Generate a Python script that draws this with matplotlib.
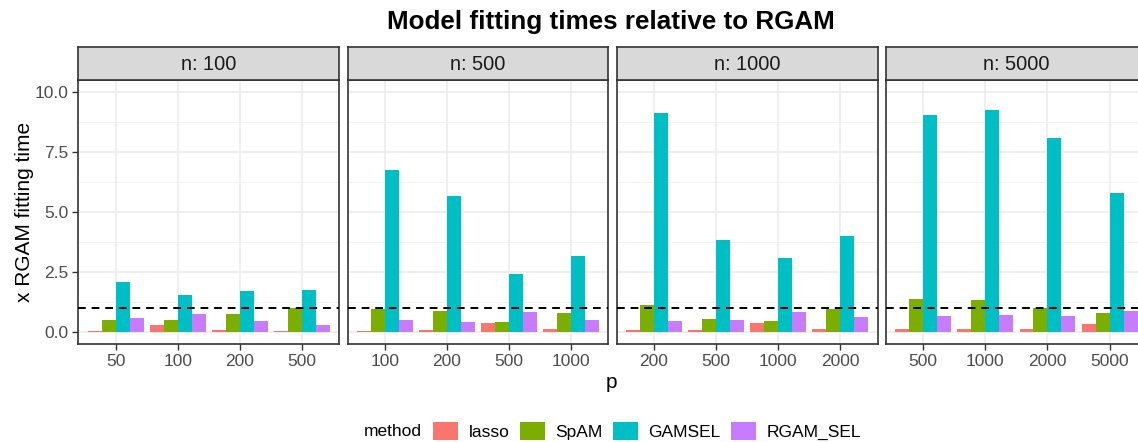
import matplotlib.pyplot as plt
from matplotlib.patches import Patch
import numpy as np

plt.rcParams['font.family'] = ['Liberation Sans', 'DejaVu Sans']

# facets and x categories
n_values = [100, 500, 1000, 5000]
p_values = [[50, 100, 200, 500],
            [100, 200, 500, 1000],
            [200, 500, 1000, 2000],
            [500, 1000, 2000, 5000]]

methods = ['lasso', 'SpAM', 'GAMSEL', 'RGAM_SEL']
colors = ['#F8766D', '#7CAE00', '#00BFC4', '#C77CFF']

# fitting time relative to RGAM, one row per n
lasso = [[0.04, 0.29, 0.08, 0.04],
         [0.04, 0.08, 0.37, 0.12],
         [0.08, 0.08, 0.37, 0.12],
         [0.12, 0.12, 0.12, 0.33]]
spam = [[0.50, 0.50, 0.75, 1.00],
        [0.98, 0.87, 0.42, 0.79],
        [1.12, 0.54, 0.46, 0.96],
        [1.37, 1.33, 1.02, 0.79]]
gamsel = [[2.08, 1.54, 1.70, 1.75],
          [6.77, 5.69, 2.41, 3.16],
          [9.14, 3.85, 3.10, 3.99],
          [9.06, 9.27, 8.10, 5.78]]
rgam_sel = [[0.58, 0.75, 0.46, 0.29],
            [0.50, 0.42, 0.83, 0.50],
            [0.46, 0.50, 0.83, 0.62],
            [0.66, 0.71, 0.66, 0.87]]
series = [lasso, spam, gamsel, rgam_sel]

W, H = 1138, 442
fig = plt.figure(figsize=(W / 100, H / 100), dpi=100)

left0, step, pw = 78.3, 269.2, 261.0
top, bottom, strip_top = 80.3, 344.0, 46.7
bw = 0.225
x = np.arange(4)

for j, n in enumerate(n_values):
    l = left0 + j * step
    ax = fig.add_axes([l / W, 1 - bottom / H, pw / W, (bottom - top) / H])
    for k in range(4):
        ax.bar(x + (k - 1.5) * bw, series[k][j], width=bw, color=colors[k], zorder=2)
    ax.axhline(1, color='black', lw=1.4, ls=(0, (4, 3)), zorder=3)
    ax.set_xlim(-0.6, 3.6)
    ax.set_ylim(-0.5, 10.5)
    ax.set_xticks(x)
    ax.set_xticklabels([str(p) for p in p_values[j]])
    ax.set_yticks([0, 2.5, 5, 7.5, 10])
    ax.set_yticks([1.25, 3.75, 6.25, 8.75], minor=True)
    ax.grid(True, which='major', color='#EBEBEB', lw=1.1, zorder=0)
    ax.grid(True, which='minor', axis='y', color='#F0F0F0', lw=0.6, zorder=0)
    ax.set_axisbelow(True)
    ax.tick_params(axis='both', which='major', length=4, width=1, color='#333333',
                   labelsize=12.5, labelcolor='#4D4D4D', pad=3)
    ax.tick_params(axis='y', which='minor', length=0)
    if j == 0:
        ax.set_yticklabels(['0.0', '2.5', '5.0', '7.5', '10.0'])
    else:
        ax.tick_params(axis='y', which='both', length=0, labelleft=False)
    for s in ax.spines.values():
        s.set_color('#333333')
        s.set_linewidth(1.2)

    sax = fig.add_axes([l / W, 1 - top / H, pw / W, (top - strip_top) / H])
    sax.set_facecolor('#D9D9D9')
    sax.set_xticks([])
    sax.set_yticks([])
    for s in sax.spines.values():
        s.set_color('#333333')
        s.set_linewidth(1.2)
    sax.text(0.5, 0.48, f'n: {n}', ha='center', va='center', fontsize=14.4,
             color='#1A1A1A', transform=sax.transAxes)

fig.text(611 / W, 1 - 22 / H, 'Model fitting times relative to RGAM', ha='center',
         va='center', fontsize=18.7, fontweight='bold')
fig.text(25 / W, 1 - 212 / H, 'x RGAM fitting time', rotation=90, ha='center',
         va='center', fontsize=15)
fig.text(611 / W, 1 - 382 / H, 'p', ha='center', va='center', fontsize=15)

handles = [Patch(facecolor=c, edgecolor='none') for c in colors]
fig.legend(handles, methods, loc='center', bbox_to_anchor=(647 / W, 1 - 431 / H),
           ncol=4, frameon=False, fontsize=12.5, handlelength=1.44, handleheight=1.25,
           handletextpad=0.6, columnspacing=0.6, borderpad=0)
fig.text(364 / W, 1 - 431 / H, 'method', ha='left', va='center', fontsize=12.5)

fig.savefig('out.png', dpi=100)
